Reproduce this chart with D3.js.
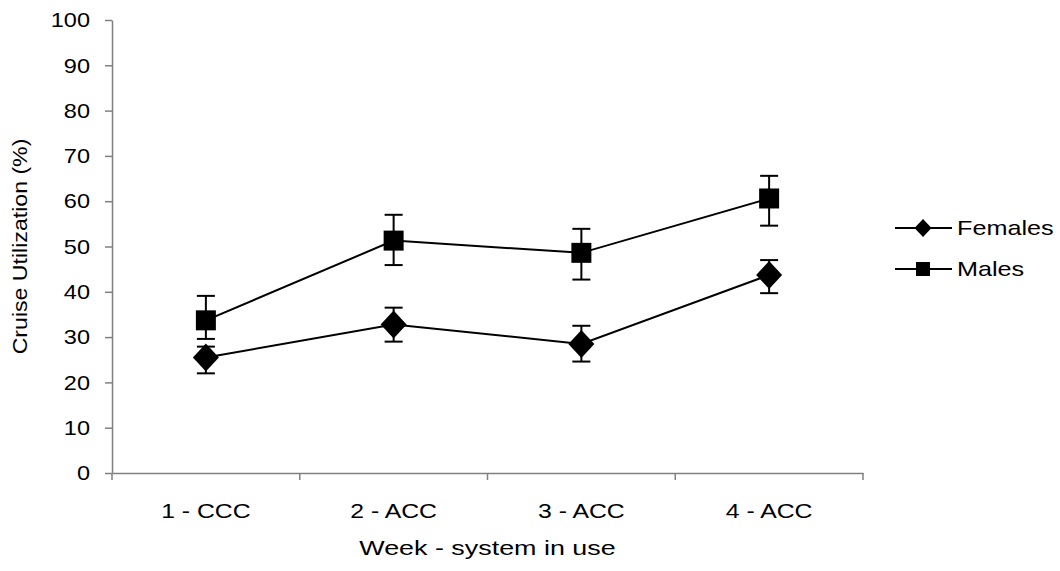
<!DOCTYPE html>
<html>
<head>
<meta charset="utf-8">
<script src="https://cdn.jsdelivr.net/npm/d3@7"></script>
<style>
  html, body { margin: 0; padding: 0; background: #fff; }
  svg text { font-family: "Liberation Sans", Arial, sans-serif; fill: #000; }
</style>
</head>
<body>
<svg id="chart" width="1060" height="571"></svg>
<script>
// ---- data ----
const categories = ["1 - CCC", "2 - ACC", "3 - ACC", "4 - ACC"];
const femalesMean = [25.5, 32.8, 28.5, 43.7];
const femalesUpper = [27.9, 36.5, 32.5, 47.0];
const femalesLower = [22.0, 29.0, 24.6, 39.7];
const malesMean = [33.7, 51.3, 48.6, 60.6];
const malesUpper = [39.1, 57.0, 53.9, 65.6];
const malesLower = [29.6, 45.9, 42.7, 54.6];
const yTicks = [0, 10, 20, 30, 40, 50, 60, 70, 80, 90, 100];
const seriesNames = ["Females", "Males"];

const svg = d3.select("#chart");
const margin = { left: 112, right: 197, top: 20, bottom: 98 };
const W = 1060, H = 571;

const x = d3.scaleBand().domain(categories).range([margin.left, W - margin.right]);
const y = d3.scaleLinear().domain([0, 100]).range([H - margin.bottom, margin.top]);

const fontSize = 21;
const hStretch = 1.2;   // reference text is horizontally wide
const vStretch = 1.1;

function stretch(sel, f) {
  sel.each(function () {
    const len = this.getComputedTextLength();
    d3.select(this).attr("textLength", len * f).attr("lengthAdjust", "spacingAndGlyphs");
  });
}

// Y axis
const yAxis = svg.append("g")
  .attr("transform", `translate(${margin.left},0)`)
  .call(d3.axisLeft(y).tickValues(yTicks).tickSize(7).tickPadding(15).tickSizeOuter(0));
yAxis.select(".domain").attr("stroke", "#808080").attr("stroke-width", 1.5);
yAxis.selectAll(".tick line").attr("stroke", "#808080").attr("stroke-width", 1.5);
yAxis.selectAll("text").style("font-size", fontSize + "px").attr("font-family", "Liberation Sans, Arial, sans-serif");
stretch(yAxis.selectAll("text"), 1.12);

// X axis
const xAxis = svg.append("g")
  .attr("transform", `translate(0,${y(0)})`)
  .call(d3.axisBottom(x).tickSize(0).tickPadding(30).tickSizeOuter(0));
xAxis.select(".domain").attr("stroke", "#808080").attr("stroke-width", 1.5);
xAxis.selectAll("text").style("font-size", fontSize + "px").attr("font-family", "Liberation Sans, Arial, sans-serif");
stretch(xAxis.selectAll("text"), 1.18);
// boundary ticks between categories
const bounds = categories.map(c => x(c)).concat([x(categories[categories.length - 1]) + x.bandwidth()]);
svg.append("g").selectAll("line").data(bounds).join("line")
  .attr("x1", d => d).attr("x2", d => d)
  .attr("y1", y(0)).attr("y2", y(0) + 7)
  .attr("stroke", "#808080").attr("stroke-width", 1.5);

// Axis titles
const xt = svg.append("text")
  .attr("x", (margin.left + W - margin.right) / 2)
  .attr("y", 555)
  .attr("text-anchor", "middle")
  .style("font-size", fontSize + "px")
  .text("Week - system in use");
stretch(xt, 1.28);

const yt = svg.append("text")
  .attr("transform", `translate(27,${(y(0) + y(100)) / 2}) rotate(-90)`)
  .attr("text-anchor", "middle")
  .style("font-size", fontSize + "px")
  .text("Cruise Utilization (%)");
stretch(yt, vStretch);

const cx = c => x(c) + x.bandwidth() / 2;

function drawSeries(mean, upper, lower, shape) {
  const g = svg.append("g");
  const pts = categories.map((c, i) => ({ c, m: mean[i], u: upper[i], l: lower[i] }));
  g.append("path")
    .datum(pts)
    .attr("fill", "none")
    .attr("stroke", "#000")
    .attr("stroke-width", 2)
    .attr("d", d3.line().x(d => cx(d.c)).y(d => y(d.m)));
  const eb = g.selectAll(".eb").data(pts).join("g");
  eb.append("line")
    .attr("x1", d => cx(d.c)).attr("x2", d => cx(d.c))
    .attr("y1", d => y(d.u)).attr("y2", d => y(d.l))
    .attr("stroke", "#000").attr("stroke-width", 2);
  eb.append("line")
    .attr("x1", d => cx(d.c) - 9).attr("x2", d => cx(d.c) + 9)
    .attr("y1", d => y(d.u)).attr("y2", d => y(d.u))
    .attr("stroke", "#000").attr("stroke-width", 2);
  eb.append("line")
    .attr("x1", d => cx(d.c) - 9).attr("x2", d => cx(d.c) + 9)
    .attr("y1", d => y(d.l)).attr("y2", d => y(d.l))
    .attr("stroke", "#000").attr("stroke-width", 2);
  g.selectAll(".mk").data(pts).join("path")
    .attr("transform", d => `translate(${cx(d.c)},${y(d.m)})`)
    .attr("d", shape)
    .attr("fill", "#000");
}

const diamond = "M0,-14L13,0L0,14L-13,0Z";
const square = "M-10,-10H10V10H-10Z";
drawSeries(femalesMean, femalesUpper, femalesLower, diamond);
drawSeries(malesMean, malesUpper, malesLower, square);

// Legend
const legend = svg.append("g");
const legItems = [
  { name: seriesNames[0], y: 228, shape: "M0,-9L8.5,0L0,9L-8.5,0Z" },
  { name: seriesNames[1], y: 269, shape: "M-7,-7H7V7H-7Z" }
];
legItems.forEach(it => {
  legend.append("line").attr("x1", 895).attr("x2", 952).attr("y1", it.y).attr("y2", it.y)
    .attr("stroke", "#000").attr("stroke-width", 2);
  legend.append("path").attr("d", it.shape).attr("transform", `translate(923,${it.y})`).attr("fill", "#000");
  const t = legend.append("text").attr("x", 957).attr("y", it.y).attr("dy", "0.35em")
    .style("font-size", fontSize + "px").text(it.name);
  stretch(t, 1.2);
});
</script>
</body>
</html>
